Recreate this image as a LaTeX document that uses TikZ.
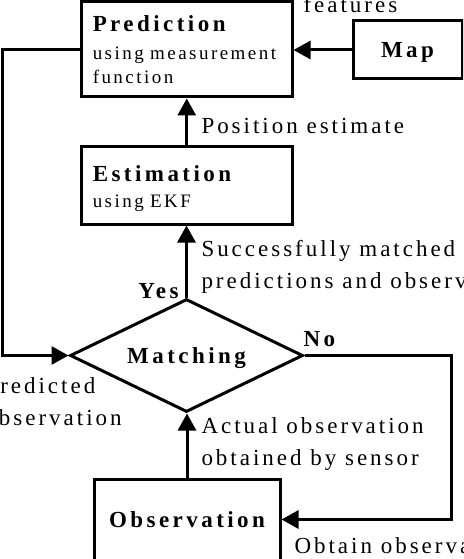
\documentclass[tikz,border=0pt]{standalone}
\usepackage{fontspec}
\setmainfont[LetterSpace=13,BoldFeatures={LetterSpace=15}]{Liberation Serif}
\usetikzlibrary{arrows.meta,shapes.geometric}

\newcommand{\labelfont}{\fontsize{23}{32}\selectfont}
\newcommand{\notefont}{\fontsize{19}{24}\selectfont}
\newcommand{\headfont}{\fontsize{23}{24}\selectfont\bfseries}

\begin{document}
\begin{tikzpicture}[x=1pt,y=-1pt,line width=3pt]
\tikzstyle{every node}=[font=\labelfont,inner sep=0pt];
\tikzstyle{box}=[draw,rectangle,font=\notefont,align=left,text width=188pt];
\tikzstyle{flow}=[-{Triangle[length=17pt,width=18pt]}];
\useasboundingbox (0,0) rectangle (463,559);
\clip (0,0) rectangle (463,559);

% boxes
\node[box,minimum width=210.5pt,minimum height=95pt] (pred) at (186.75,49.5)
	{{\headfont\rule{0pt}{17pt}Prediction}\\[4pt]{\notefont using measurement}\\{\notefont function}};
\node[box,minimum width=210.5pt,minimum height=78pt] (est) at (186.75,185)
	{{\headfont\rule{0pt}{24pt}Estimation}\\[2pt]{\notefont using EKF}};
\node[draw,rectangle,font=\headfont,text depth=0pt,minimum width=109pt,minimum height=58pt] (map) at (407.5,50) {Map};
\node[draw,diamond,aspect=2.06,font=\headfont,text depth=0pt,minimum width=233pt,minimum height=113pt] (match) at (186.5,355.5) {Matching};
\node[draw,rectangle,font=\headfont,text depth=0pt,minimum width=186pt,minimum height=81pt] (obs) at (187,519.5) {Observation};

% connectors
\coordinate (lft) at (2,355.5);
\coordinate (rgt) at (451,440);
\draw[flow] (map.west) -- (map.west -| pred.east);
\draw[flow] (est) -- (pred);
\draw[flow] (match.north) -- (match.north |- est.south);
\draw[flow] (obs.north) -- (obs.north |- match.south);
\draw[flow] (pred.west) -| (lft) -- (match.west);
\draw[flow] (match.east) -| (rgt) |- (obs.east);

% labels (two-line ones sit on their last baseline)
\node[anchor=base west] (feat) at (302,13) {features};
\node[anchor=base west] (posest) at (200,133) {Position estimate};
\node[anchor=base west,align=left] (succ) at (200,288) {Successfully matched\\predictions and observations};
\node[anchor=base east,font=\headfont] (yes) at (180,298) {Yes};
\node[anchor=base west,font=\headfont] (no) at (302,346) {No};
\node[anchor=base west,align=left] (predobs) at (-17,425) {Predicted\\observation};
\node[anchor=base west,align=left] (actobs) at (200,465) {Actual observation\\obtained by sensor};
\node[anchor=base west] (getobs) at (293,553) {Obtain observation};
\end{tikzpicture}
\end{document}
